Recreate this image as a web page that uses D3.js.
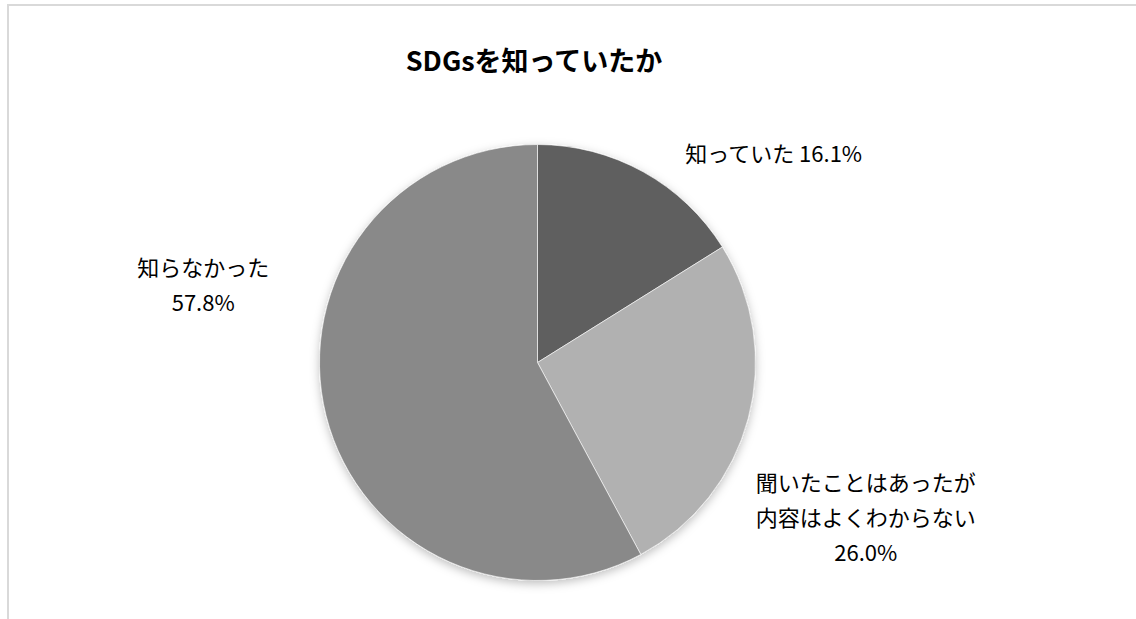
<!DOCTYPE html>
<html>
<head>
<meta charset="utf-8">
<script src="https://cdn.jsdelivr.net/npm/d3@7"></script>
<style>
  body { margin: 0; background: #fff; }
  svg { display: block; }
</style>
</head>
<body>
<div id="chart"></div>
<script>
// data
const title = "SDGsを知っていたか";
const categories = ["知っていた", "聞いたことはあったが内容はよくわからない", "知らなかった"];
const labelLines = [["知っていた"], ["聞いたことはあったが", "内容はよくわからない"], ["知らなかった"]];
const values = [16.1, 26.0, 57.8];
const colors = ["#5f5f5f", "#b1b1b1", "#898989"];

const width = 1136, height = 619;
const cx = 537.5, cy = 362.5, radius = 218;

let svg = d3.select("#chart")
    .append("svg")
    .attr("width", width)
    .attr("height", height);

// soft shadow like the office chart
let defs = svg.append("defs");
let filt = defs.append("filter")
    .attr("id", "shadow")
    .attr("x", "-20%").attr("y", "-20%")
    .attr("width", "140%").attr("height", "140%");
filt.append("feDropShadow")
    .attr("dx", 0).attr("dy", 3)
    .attr("stdDeviation", 5)
    .attr("flood-color", "#000")
    .attr("flood-opacity", 0.25);

// chart area border (cut off at right/bottom)
svg.append("rect")
    .attr("x", 8).attr("y", 5)
    .attr("width", 1300).attr("height", 800)
    .attr("fill", "none")
    .attr("stroke", "#d9d9d9")
    .attr("stroke-width", 2);

svg.append("text")
    .attr("x", 534)
    .attr("y", 71)
    .attr("text-anchor", "middle")
    .attr("font-family", "'Noto Sans CJK JP', sans-serif")
    .attr("font-weight", "bold")
    .attr("font-size", 27)
    .attr("fill", "#000")
    .text(title);

let pie = d3.pie().sort(null).value(d => d);
let arcs = pie(values);
let arc = d3.arc().innerRadius(0).outerRadius(radius);
let labelArc = d3.arc().innerRadius(320).outerRadius(320);

let g = svg.append("g")
    .attr("transform", `translate(${cx},${cy})`);

g.append("g")
    .attr("filter", "url(#shadow)")
    .selectAll("path")
    .data(arcs)
    .join("path")
    .attr("d", arc)
    .attr("fill", (d, i) => colors[i])
    .attr("stroke", "#fff")
    .attr("stroke-width", 0.6);

// nudges from the centroid of the label ring, as the office layout put them
const nudge = [[81, 72], [19, 74], [-24, -155]];
const lineH = 35;

arcs.forEach((d, i) => {
    let c = labelArc.centroid(d);
    let x = c[0] + nudge[i][0];
    let y = c[1] + nudge[i][1];
    let pct = values[i].toFixed(1) + "%";
    let lines = labelLines[i];
    let t = g.append("text")
        .attr("text-anchor", "middle")
        .attr("font-family", "'Noto Sans CJK JP', sans-serif")
        .attr("font-size", 22)
        .attr("fill", "#000");
    if (i === 0) {
        // single line label
        t.attr("x", x).attr("y", y).attr("dy", "0.35em");
        t.append("tspan").text(lines[0] + " ");
        t.append("tspan").text(pct);
    } else {
        let n = lines.length + 1;
        let y0 = y - (n - 1) * lineH / 2;
        lines.forEach((ln, k) => {
            t.append("tspan")
                .attr("x", x)
                .attr("y", y0 + k * lineH)
                .attr("dy", "0.35em")
                .text(ln);
        });
        t.append("tspan")
            .attr("x", x)
            .attr("y", y0 + lines.length * lineH)
            .attr("dy", "0.35em")
            .text(pct);
    }
});
</script>
</body>
</html>
